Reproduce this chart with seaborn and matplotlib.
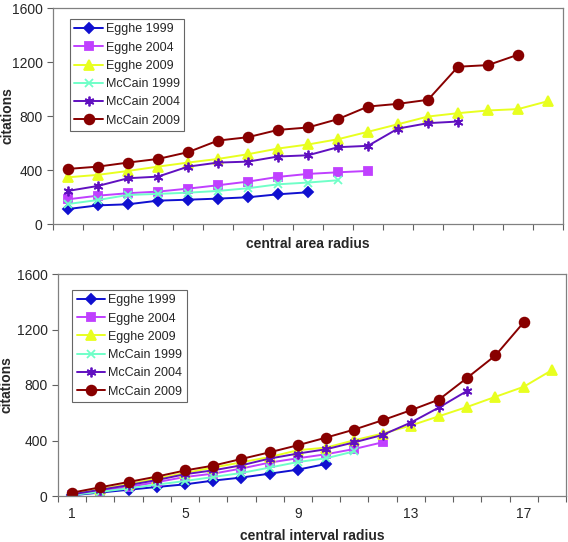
import numpy as np
import pandas as pd
import seaborn as sns
import matplotlib.pyplot as plt
from matplotlib.ticker import FixedLocator, NullFormatter, FixedFormatter

sns.set_style("white")
plt.rcParams['font.family'] = ['Liberation Sans', 'DejaVu Sans']

series = ['Egghe 1999', 'Egghe 2004', 'Egghe 2009', 'McCain 1999', 'McCain 2004', 'McCain 2009']
colors = ['#1010D0', '#C040FF', '#E8FF20', '#70FFC8', '#6010C0', '#880000']
markers = ['D', 's', '^', 'x', (6, 2, 0), 'o']
msizes = [5, 6, 7, 6, 7, 7]

# top panel: central area radius
area_egghe_1999 = [111, 138, 146, 173, 180, 188, 198, 220, 235]
area_egghe_2004 = [183, 210, 228, 240, 262, 287, 314, 349, 371, 383, 393]
area_egghe_2009 = [346, 364, 393, 425, 455, 482, 517, 559, 589, 628, 683, 739, 796, 821, 841, 851, 910]
area_mccain_1999 = [148, 178, 215, 223, 232, 245, 265, 294, 307, 324]
area_mccain_2004 = [245, 282, 339, 351, 425, 455, 462, 500, 509, 569, 579, 707, 747, 759]
area_mccain_2009 = [408, 425, 455, 482, 532, 618, 643, 697, 715, 777, 870, 890, 920, 1165, 1177, 1254]

# bottom panel: central interval radius
int_egghe_1999 = [5, 25, 45, 65, 84, 111, 133, 161, 190, 231]
int_egghe_2004 = [10, 38, 65, 100, 137, 161, 198, 241, 272, 301, 339, 387]
int_egghe_2009 = [15, 50, 85, 125, 166, 205, 243, 281, 330, 349, 402, 450, 508, 575, 642, 715, 787, 907]
int_mccain_1999 = [8, 30, 55, 82, 108, 137, 166, 205, 245, 272, 322]
int_mccain_2004 = [12, 45, 78, 115, 157, 185, 221, 270, 306, 337, 387, 440, 529, 638, 758]
int_mccain_2009 = [24, 63, 101, 140, 184, 219, 267, 315, 366, 421, 479, 546, 618, 695, 852, 1013, 1251]

area_data = [area_egghe_1999, area_egghe_2004, area_egghe_2009,
             area_mccain_1999, area_mccain_2004, area_mccain_2009]
int_data = [int_egghe_1999, int_egghe_2004, int_egghe_2009,
            int_mccain_1999, int_mccain_2004, int_mccain_2009]

bottom_labels = ['1', '5', '9', '13', '17']
bottom_label_pos = [1, 5, 9, 13, 17]

fig = plt.figure(figsize=(5.68, 5.42), dpi=100)
ax1 = fig.add_axes([53 / 568, 1 - 224 / 542, 510 / 568, 216 / 542])
ax2 = fig.add_axes([58 / 568, 1 - 496 / 542, 508 / 568, 222 / 542])


def draw(ax, data, ncat, xlabel, leg_xy):
    for name, vals, c, m, ms in zip(series, data, colors, markers, msizes):
        df = pd.DataFrame({'x': np.arange(1, len(vals) + 1), 'y': vals})
        sns.lineplot(data=df, x='x', y='y', ax=ax, color=c, marker=m, markersize=ms,
                     markerfacecolor=c, markeredgecolor=c, markeredgewidth=1.3,
                     linewidth=1.4, label=name)
    ax.set_xlim(0.5, ncat + 0.5)
    ax.set_ylim(0, 1600)
    ax.set_yticks([0, 400, 800, 1200, 1600])
    ax.xaxis.set_major_locator(FixedLocator(np.arange(0.5, ncat + 1)))
    ax.xaxis.set_major_formatter(NullFormatter())
    for s in ax.spines.values():
        s.set_color('#808080')
        s.set_linewidth(0.9)
    ax.tick_params(axis='both', which='major', direction='out', length=4, width=0.8,
                   color='#606060', labelsize=10, bottom=True, left=True)
    ax.set_xlabel(xlabel, fontsize=10, fontweight='bold')
    ax.set_ylabel('citations', fontsize=10, fontweight='bold')
    leg = ax.legend(loc='upper left', bbox_to_anchor=leg_xy, borderaxespad=0, fontsize=9,
                    frameon=True, fancybox=False, handlelength=2.3, borderpad=0.35,
                    labelspacing=0.5, handletextpad=0.25)
    leg.get_frame().set_edgecolor('#404040')
    leg.get_frame().set_linewidth(0.8)


draw(ax1, area_data, 17, 'central area radius', (0.033, 0.949))
ax1.xaxis.labelpad = 2
ax1.yaxis.set_label_coords(-0.076, 0.5)

draw(ax2, int_data, 18, 'central interval radius', (0.028, 0.928))
ax2.xaxis.set_minor_locator(FixedLocator(bottom_label_pos))
ax2.xaxis.set_minor_formatter(FixedFormatter(bottom_labels))
ax2.tick_params(axis='x', which='minor', length=0, labelsize=10, pad=8)
ax2.xaxis.labelpad = 6
ax2.yaxis.set_label_coords(-0.087, 0.5)

fig.savefig('out.png', dpi=100)
